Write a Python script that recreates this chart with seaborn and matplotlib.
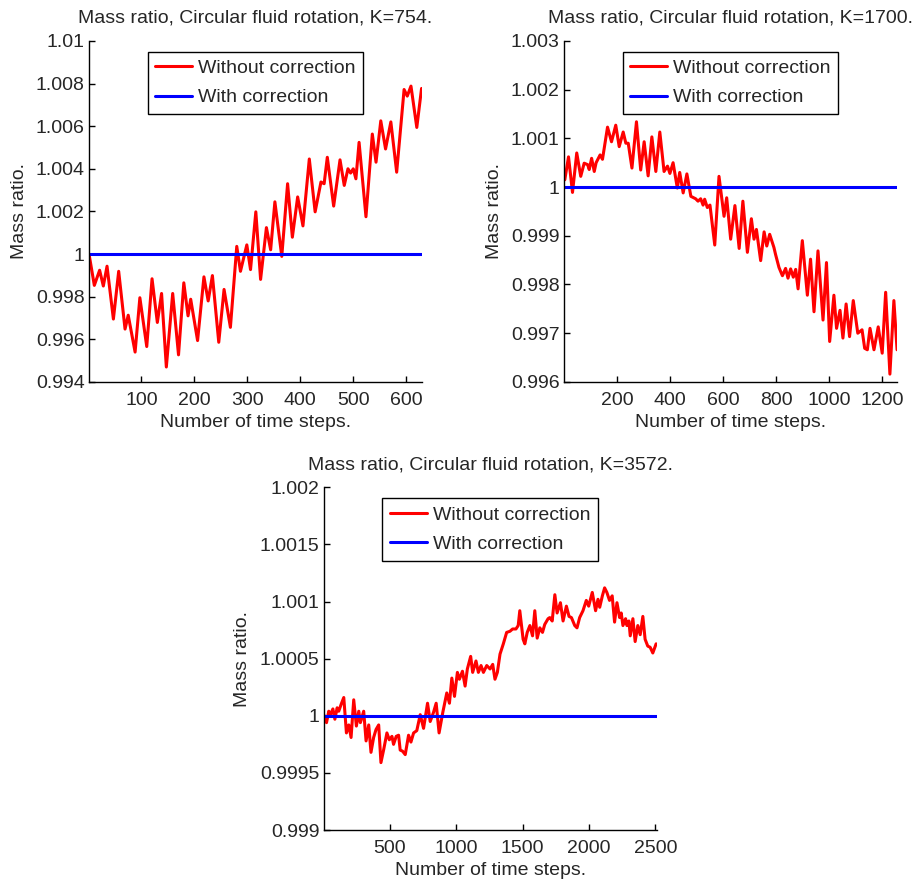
import numpy as np
import pandas as pd
import matplotlib
matplotlib.use("Agg")
import matplotlib.pyplot as plt
import seaborn as sns
from matplotlib.ticker import FuncFormatter

# ---------------- data ----------------
titles = ["Mass ratio, Circular fluid rotation, K=754.",
          "Mass ratio, Circular fluid rotation, K=1700.",
          "Mass ratio, Circular fluid rotation, K=3572."]
xlabel_text = "Number of time steps."
ylabel_text = "Mass ratio."
legend_labels = ["Without correction", "With correction"]

# (time step, mass ratio without correction)
points_k754 = [
    (1, 1.0), (11, 0.99853), (21, 0.99924), (28, 0.9985), (35, 0.99943), (47, 0.99695),
    (57, 0.99919), (69, 0.99648), (75, 0.99713), (88, 0.9954), (97, 0.99795), (110, 0.99566),
    (120, 0.99884), (130, 0.99679), (138, 0.99815), (147, 0.9947), (159, 0.99815),
    (170, 0.99527), (180, 0.99865), (188, 0.9971), (193, 0.99788), (206, 0.99594),
    (218, 0.99893), (226, 0.9978), (234, 0.99899), (246, 0.99586), (256, 0.99834),
    (268, 0.99656), (280, 1.00036), (287, 0.99919), (299, 1.00043), (306, 0.99927),
    (316, 1.00198), (325, 0.99881), (336, 1.00124), (344, 1.0002), (352, 1.00245),
    (365, 0.99989), (376, 1.0033), (385, 1.00079), (395, 1.00268), (405, 1.00132),
    (417, 1.00446), (428, 1.00198), (439, 1.00338), (445, 1.0033), (451, 1.00454),
    (463, 1.00225), (475, 1.00442), (483, 1.00322), (490, 1.004), (495, 1.0038),
    (500, 1.004), (505, 1.00353), (511, 1.00524), (524, 1.00175), (536, 1.00563),
    (543, 1.00431), (552, 1.00625), (561, 1.00493), (571, 1.0062), (582, 1.00384),
    (596, 1.00772), (602, 1.00741), (609, 1.00788), (620, 1.00594), (629, 1.00777)]

points_k1700 = [
    (4, 1.00015), (18, 1.00062), (33, 0.99989), (49, 1.0007), (64, 1.00022), (77, 1.00049),
    (90, 1.00046), (96, 1.00036), (105, 1.00059), (115, 1.00032), (122, 1.0005),
    (137, 1.00066), (146, 1.00057), (165, 1.00123), (180, 1.00093), (196, 1.00127),
    (209, 1.00083), (224, 1.00113), (234, 1.0009), (243, 1.0009), (257, 1.00039),
    (274, 1.00134), (290, 1.00035), (303, 1.00093), (318, 1.00023), (332, 1.00103),
    (347, 1.00032), (362, 1.00113), (378, 1.00032), (391, 1.00043), (400, 1.00028),
    (412, 1.0005), (428, 0.99998), (437, 1.0003), (450, 0.99988), (464, 1.00027),
    (479, 0.99981), (497, 0.99976), (506, 0.99971), (516, 0.99976), (525, 0.99963),
    (531, 0.99975), (541, 0.99958), (551, 0.99963), (569, 0.99881), (585, 1.00022),
    (604, 0.9994), (614, 0.99978), (629, 0.99893), (645, 0.99962), (661, 0.99874),
    (675, 0.99971), (692, 0.99866), (707, 0.99935), (717, 0.99893), (726, 0.99913),
    (742, 0.99849), (755, 0.99908), (765, 0.99879), (776, 0.99903), (792, 0.99876),
    (798, 0.99862), (811, 0.99835), (824, 0.99818), (836, 0.99833), (845, 0.99813),
    (855, 0.99832), (865, 0.99815), (874, 0.99831), (883, 0.99791), (899, 0.9989),
    (918, 0.99778), (930, 0.99852), (943, 0.99744), (958, 0.99869), (977, 0.99727),
    (990, 0.99845), (1002, 0.99683), (1018, 0.99778), (1028, 0.9971), (1041, 0.99747),
    (1052, 0.9969), (1064, 0.9976), (1077, 0.99693), (1091, 0.99767), (1108, 0.997),
    (1124, 0.99707), (1134, 0.99669), (1144, 0.99666), (1154, 0.9971), (1169, 0.99666),
    (1185, 0.99713), (1200, 0.99659), (1213, 0.99784), (1229, 0.99616), (1244, 0.99767),
    (1256, 0.99666)]

points_k3572 = [
    (7, 1.0), (22, 0.99994), (39, 1.00004), (52, 1.00001), (70, 1.00006), (85, 0.99997),
    (102, 1.00007), (114, 1.00004), (132, 1.0001), (152, 1.00016), (172, 0.99985),
    (190, 0.99992), (207, 0.99981), (227, 1.00014), (247, 0.99991), (265, 1.00004),
    (277, 0.99994), (302, 1.00004), (320, 0.99978), (340, 0.99992), (357, 0.99968),
    (377, 0.99981), (395, 0.99988), (415, 0.99992), (432, 0.99959), (452, 0.9997),
    (477, 0.99985), (495, 0.99979), (515, 0.99982), (527, 0.99975), (547, 0.99982),
    (565, 0.99983), (577, 0.9997), (595, 0.99969), (615, 0.99966), (640, 0.99983),
    (658, 0.99977), (678, 0.99985), (702, 0.99987), (728, 1.00001), (753, 0.99989),
    (783, 1.00011), (803, 0.99995), (828, 1.00003), (848, 1.00011), (870, 0.99985),
    (898, 1.00003), (928, 1.0002), (948, 1.00011), (966, 1.00033), (986, 1.00017),
    (1008, 1.00038), (1023, 1.00032), (1046, 1.00039), (1066, 1.00026), (1083, 1.00041),
    (1108, 1.00052), (1123, 1.00038), (1148, 1.00048), (1166, 1.00038), (1186, 1.00044),
    (1204, 1.00038), (1229, 1.00044), (1254, 1.00041), (1274, 1.00045), (1291, 1.00032),
    (1309, 1.00038), (1329, 1.00054), (1354, 1.00063), (1379, 1.00073), (1404, 1.00074),
    (1424, 1.00076), (1449, 1.00076), (1466, 1.00079), (1478, 1.00092), (1503, 1.00067),
    (1516, 1.00063), (1534, 1.00073), (1554, 1.00079), (1574, 1.0007), (1591, 1.00092),
    (1609, 1.00068), (1629, 1.00077), (1649, 1.00073), (1666, 1.0008), (1691, 1.00085),
    (1704, 1.00086), (1722, 1.00083), (1742, 1.00106), (1759, 1.0009), (1784, 1.00099),
    (1804, 1.00083), (1829, 1.00096), (1849, 1.00087), (1867, 1.00086), (1892, 1.00079),
    (1909, 1.00077), (1929, 1.00086), (1954, 1.00092), (1979, 1.00101), (1997, 1.00096),
    (2024, 1.00108), (2049, 1.00092), (2067, 1.00102), (2080, 1.00095), (2100, 1.00105),
    (2117, 1.00112), (2134, 1.00108), (2154, 1.00101), (2174, 1.00105), (2192, 1.00082),
    (2210, 1.00099), (2230, 1.00086), (2242, 1.0009), (2255, 1.00079), (2275, 1.00085),
    (2285, 1.00079), (2300, 1.00083), (2310, 1.0007), (2330, 1.00085), (2347, 1.00065),
    (2367, 1.00079), (2385, 1.00071), (2405, 1.00087), (2422, 1.00067), (2442, 1.00061),
    (2460, 1.0006), (2480, 1.00055), (2505, 1.00063)]

xlims = [(1, 630), (1, 1256), (1, 2510)]
ylims = [(0.994, 1.01), (0.996, 1.003), (0.999, 1.002)]
xticks = [[100, 200, 300, 400, 500, 600],
          [200, 400, 600, 800, 1000, 1200],
          [500, 1000, 1500, 2000, 2500]]
yticks = [[0.994, 0.996, 0.998, 1.0, 1.002, 1.004, 1.006, 1.008, 1.01],
          [0.996, 0.997, 0.998, 0.999, 1.0, 1.001, 1.002, 1.003],
          [0.999, 0.9995, 1.0, 1.0005, 1.001, 1.0015, 1.002]]
corrected_value = 1.0

# ---------------- style ----------------
sns.set_style("ticks")
plt.rcParams["font.family"] = ["Liberation Sans", "DejaVu Sans"]
plt.rcParams["axes.linewidth"] = 1.0
plt.rcParams["xtick.direction"] = "in"
plt.rcParams["ytick.direction"] = "in"

fig = plt.figure(figsize=(9.15, 8.8), dpi=100)
positions = [[0.0973, 0.566, 0.364, 0.3875],
             [0.6164, 0.566, 0.364, 0.3875],
             [0.3538, 0.0568, 0.364, 0.3894]]

series = [points_k754, points_k1700, points_k3572]
fmt = FuncFormatter(lambda v, p: f"{round(v, 6):g}")

for i in range(3):
    ax = fig.add_axes(positions[i])
    df_red = pd.DataFrame(series[i], columns=["step", "ratio"])
    df_blue = pd.DataFrame({"step": list(xlims[i]),
                            "ratio": [corrected_value, corrected_value]})
    sns.lineplot(data=df_red, x="step", y="ratio", ax=ax, color="#ff0000",
                 linewidth=2.2, label=legend_labels[0],
                 solid_joinstyle="round", solid_capstyle="round")
    sns.lineplot(data=df_blue, x="step", y="ratio", ax=ax, color="#0000ff",
                 linewidth=2.2, label=legend_labels[1])
    ax.set_xlim(*xlims[i])
    ax.set_ylim(*ylims[i])
    ax.set_xticks(xticks[i])
    ax.set_yticks(yticks[i])
    ax.yaxis.set_major_formatter(fmt)
    ax.tick_params(labelsize=14, length=4, width=1, color="black",
                   top=False, right=False)
    ax.tick_params(axis="x", pad=7)
    ax.tick_params(axis="y", pad=3)
    for s in ["top", "right"]:
        ax.spines[s].set_visible(False)
    for s in ["left", "bottom"]:
        ax.spines[s].set_color("black")
    ax.set_title(titles[i], fontsize=14, pad=13)
    ax.set_xlabel(xlabel_text, fontsize=14, labelpad=4)
    ax.set_ylabel(ylabel_text, fontsize=14, labelpad=6)
    leg = ax.legend(loc="upper center", bbox_to_anchor=(0.5, 0.968), fontsize=14,
                    frameon=True, fancybox=False, framealpha=1, edgecolor="black",
                    handlelength=1.9, handletextpad=0.3, labelspacing=0.6,
                    borderpad=0.4, borderaxespad=0)
    leg.get_frame().set_linewidth(1.0)

fig.savefig("out.png", dpi=100)
